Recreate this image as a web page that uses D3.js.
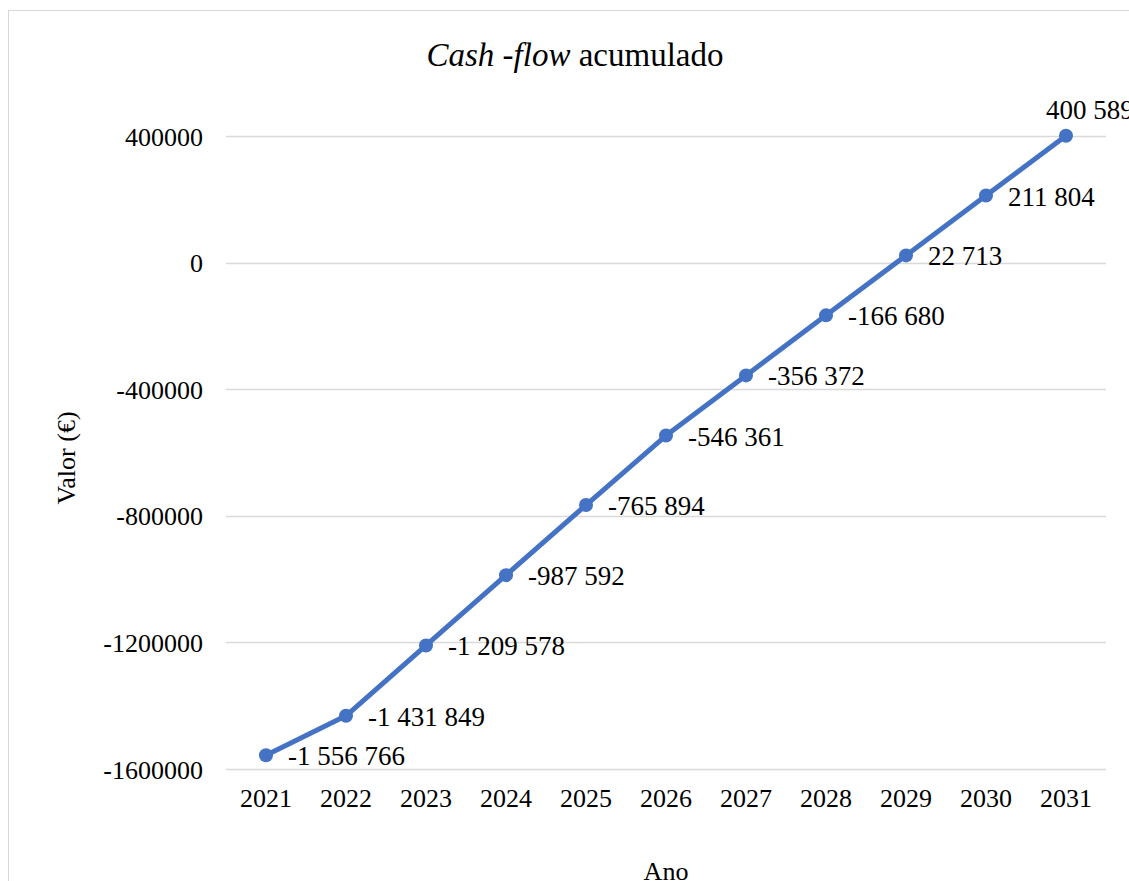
<!DOCTYPE html>
<html>
<head>
<meta charset="utf-8">
<script src="https://cdn.jsdelivr.net/npm/d3@7"></script>
<style>
  body { margin: 0; background: #fff; }
  svg text { font-family: "Liberation Serif", "Times New Roman", serif; fill: #000; }
</style>
</head>
<body>
<svg id="chart" width="1129" height="881"></svg>
<script>
var years = ['2021', '2022', '2023', '2024', '2025', '2026', '2027', '2028', '2029', '2030', '2031'];
var cashFlow = [-1556766, -1431849, -1209578, -987592, -765894, -546361, -356372, -166680, 22713, 211804, 400589];
var yTicks = [400000, 0, -400000, -800000, -1200000, -1600000];

var svg = d3.select('#chart');
var fmt = function(v) {
    var s = Math.abs(v).toString().replace(/\B(?=(\d{3})+(?!\d))/g, ' ');
    return (v < 0 ? '-' : '') + s;
};

// outer frame of the chart area
svg.append('rect')
    .attr('x', 8.5).attr('y', 10.5)
    .attr('width', 1200).attr('height', 1000)
    .attr('fill', 'none')
    .attr('stroke', '#d9d9d9')
    .attr('stroke-width', 1);

var x = d3.scaleBand().domain(years).range([226, 1106]);
var y = d3.scaleLinear().domain([-1600000, 400000]).range([769, 136]);

// gridlines
svg.append('g').selectAll('line')
    .data(yTicks)
    .enter().append('line')
    .attr('x1', 226).attr('x2', 1106)
    .attr('y1', function(d) { return Math.round(y(d)) + 0.5; })
    .attr('y2', function(d) { return Math.round(y(d)) + 0.5; })
    .attr('stroke', '#d9d9d9')
    .attr('stroke-width', 1.5);

// y axis
var yAxis = svg.append('g')
    .attr('transform', 'translate(226,0)')
    .call(d3.axisLeft(y).tickValues(yTicks).tickSize(0).tickPadding(23)
        .tickFormat(function(d) { return (d < 0 ? '-' : '') + Math.abs(d); }));
yAxis.select('.domain').remove();
yAxis.selectAll('text').style('font-size', '26px').attr('dy', '0.35em');

// x axis
var xAxis = svg.append('g')
    .attr('transform', 'translate(0,769)')
    .call(d3.axisBottom(x).tickSize(0).tickPadding(20));
xAxis.select('.domain').remove();
xAxis.selectAll('text').style('font-size', '26px');

// line
var line = d3.line()
    .x(function(d, i) { return x(years[i]) + x.bandwidth() / 2; })
    .y(function(d) { return y(d); });

svg.append('path')
    .datum(cashFlow)
    .attr('d', line)
    .attr('fill', 'none')
    .attr('stroke', '#4472c4')
    .attr('stroke-width', 5)
    .attr('stroke-linejoin', 'round')
    .attr('stroke-linecap', 'round');

svg.append('g').selectAll('circle')
    .data(cashFlow)
    .enter().append('circle')
    .attr('cx', function(d, i) { return x(years[i]) + x.bandwidth() / 2; })
    .attr('cy', function(d) { return y(d); })
    .attr('r', 7)
    .attr('fill', '#4472c4');

// data labels
var last = cashFlow.length - 1;
svg.append('g').selectAll('text')
    .data(cashFlow)
    .enter().append('text')
    .attr('x', function(d, i) { return x(years[i]) + x.bandwidth() / 2 + (i === last ? -20 : 22); })
    .attr('y', function(d, i) { return y(d) + (i === last ? -17 : 10); })
    .style('font-size', '27px')
    .text(fmt);

// title
var title = svg.append('text')
    .attr('x', 575).attr('y', 66)
    .attr('text-anchor', 'middle')
    .style('font-size', '33px');
title.append('tspan').style('font-style', 'italic').text('Cash -flow');
title.append('tspan').text(' acumulado');

// axis titles
svg.append('text')
    .attr('transform', 'translate(75,458) rotate(-90)')
    .attr('text-anchor', 'middle')
    .style('font-size', '26px')
    .text('Valor (€)');

svg.append('text')
    .attr('x', 666).attr('y', 880)
    .attr('text-anchor', 'middle')
    .style('font-size', '26px')
    .text('Ano');
</script>
</body>
</html>
